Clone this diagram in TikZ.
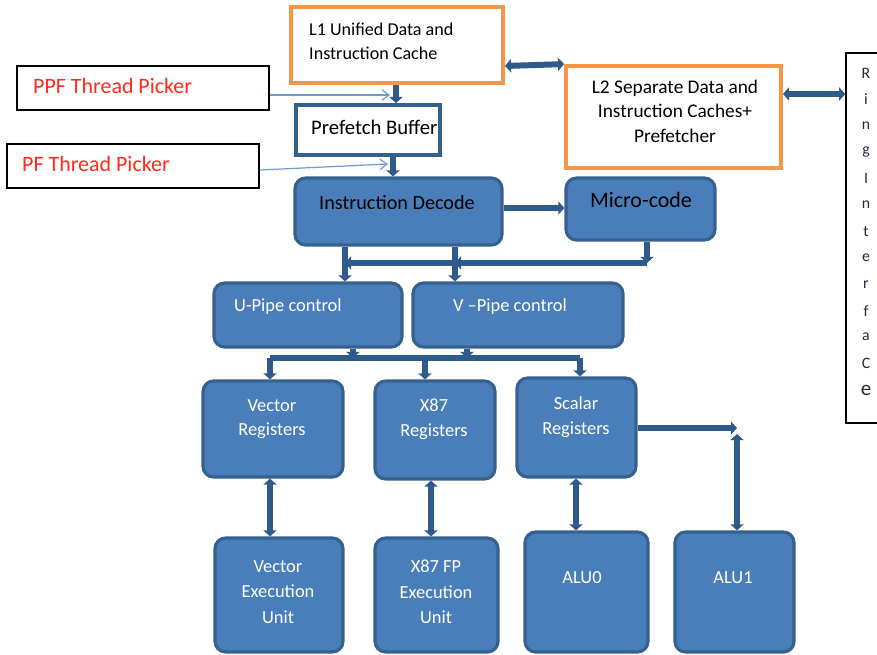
\documentclass[tikz,border=0pt]{standalone}
\usepackage{fontspec}
\setmainfont{Carlito}
\usetikzlibrary{arrows.meta}
\definecolor{boxblue}{HTML}{4A7EBB}
\definecolor{edgeblue}{HTML}{35618F}
\definecolor{pipeblue}{HTML}{2E5B8B}
\definecolor{feedblue}{HTML}{6C9BD2}
\definecolor{cacheorange}{HTML}{F79646}
\definecolor{pickred}{HTML}{FF2A1A}
\definecolor{ringtext}{HTML}{262640}

\begin{document}
\begin{tikzpicture}[x=0.02cm,y=-0.02cm,
  blk/.style={draw=edgeblue,fill=boxblue,line width=1.8pt,rounded corners=6pt,inner sep=0pt},
  cache/.style={draw=cacheorange,line width=2.2pt,fill=white,inner sep=0pt},
  picker/.style={draw=black,line width=0.8pt,inner sep=0pt},
  fat/.style={draw=pipeblue,line width=3.4pt},
  oneway/.style={-{Triangle[width=7.5pt,length=3.5pt]}},
  twoway/.style={{Triangle[width=7.5pt,length=3.5pt]}-{Triangle[width=7.5pt,length=3.5pt]}},
  feed/.style={draw=feedblue,line width=0.7pt,-{Straight Barb[width=6pt,length=4pt]}},
  lbl/.style={font=\fontsize{10.5}{14}\selectfont,text=white,align=center},
  small/.style={font=\fontsize{10.3}{14}\selectfont,align=center}]
\useasboundingbox (0,0) rectangle (877,654);
\clip (0,0) rectangle (877,654);

\node[cache,minimum width=4.24cm,minimum height=1.52cm] (l1) at (397,45) {};
\node[cache,minimum width=4.3cm,minimum height=2.04cm] (l2) at (673.5,117) {};
\node[picker,minimum width=1.08cm,minimum height=7.4cm] (ring) at (873,238) {};
\node[picker,minimum width=5.04cm,minimum height=0.88cm] (ppf) at (143,88) {};
\node[picker,minimum width=5.04cm,minimum height=0.88cm] (pf) at (133,166) {};
\node[draw=edgeblue,line width=2.2pt,fill=white,inner sep=0pt,minimum width=2.88cm,minimum height=1cm] (pfb) at (368,130) {};
\node[blk,minimum width=4.14cm,minimum height=1.34cm] (id) at (398.5,211.5) {};
\node[blk,minimum width=2.98cm,minimum height=1.24cm] (mc) at (640.5,209) {};
\node[blk,minimum width=3.76cm,minimum height=1.28cm] (upipe) at (308,315) {};
\node[blk,minimum width=4.2cm,minimum height=1.28cm] (vpipe) at (518,315) {};
\node[blk,minimum width=2.8cm,minimum height=1.92cm] (vreg) at (273,429) {};
\node[blk,minimum width=2.4cm,minimum height=1.96cm] (xreg) at (435,430) {};
\node[blk,minimum width=2.38cm,minimum height=1.98cm] (sreg) at (576.5,427.5) {};
\node[blk,minimum width=2.56cm,minimum height=2.28cm] (vexe) at (279,595) {};
\node[blk,minimum width=2.46cm,minimum height=2.28cm] (xexe) at (436.5,595) {};
\node[blk,minimum width=2.46cm,minimum height=2.4cm] (alu0) at (586.5,592) {};
\node[blk,minimum width=2.38cm,minimum height=2.4cm] (alu1) at (734.5,592) {};

\node[small,anchor=west] at (303,29) {L1 Unified Data and};
\node[small,anchor=west] at (303,53) {Instruction Cache};
\node[small,font=\fontsize{11}{14}\selectfont] at (675,111) {L2 Separate Data and\\Instruction Caches+\\Prefetcher};
\node[anchor=west,text=pickred,font=\fontsize{12.5}{14}\selectfont] at (27,86) {PPF Thread Picker};
\node[anchor=west,text=pickred,font=\fontsize{12.5}{14}\selectfont] at (16,164) {PF Thread Picker};
\node[anchor=west,font=\fontsize{11.8}{13}\selectfont] at (305,127) {Prefetch Buffer};
\node[font=\fontsize{11.5}{13}\selectfont] at (397,203) {Instruction Decode};
\node[font=\fontsize{12.5}{14}\selectfont] at (641,200) {Micro-code};
\node[lbl,anchor=west] at (228,307) {U-Pipe control};
\node[lbl] at (510,307) {V \textendash Pipe control};
\node[lbl] at (272,419) {Vector\\Registers};
\node[lbl] at (434,419) {X87\\Registers};
\node[lbl] at (576,417) {Scalar\\Registers};
\node[lbl,font=\fontsize{10.5}{14.5}\selectfont] at (278,592) {Vector\\Execution\\Unit};
\node[lbl,font=\fontsize{10.5}{14.5}\selectfont] at (436,592) {X87 FP\\Execution\\Unit};
\node[lbl] at (582,578) {ALU0};
\node[lbl] at (733,578) {ALU1};
\foreach \ch [count=\i from 0] in {R,i,n,g,I,n,t,e,r,f,a,C}
  \node[text=ringtext,font=\fontsize{9}{10}\selectfont] at (866,73+26.4*\i) {\ch};
\node[text=ringtext,font=\fontsize{12}{13}\selectfont] at (866,390) {e};

\coordinate (ppfend) at (390,95);
\coordinate (pfend) at (388,164);
\draw[feed] (ppf.east |- 0,95) -- (ppfend);
\draw[feed] (pf.east |- 0,170) -- (pfend);

\draw[fat,twoway] (l1.east |- 0,66) -- (l2.north west);
\draw[fat,twoway] (l2.east |- 0,94) -- (ring.west |- 0,94);
\draw[fat,oneway] (l1.south -| 396,0) -- (pfb.north -| 396,0);
\draw[fat,oneway] (pfb.south -| 393,0) -- (id.north -| 393,0);
\draw[fat,oneway] (id.east |- 0,208) -- (mc.west |- 0,208);

\coordinate (ubus) at (345,263);
\coordinate (vbus) at (455,263);
\coordinate (mbus) at (647,263);
\draw[fat,oneway] (mc.south -| mbus) -- (mbus);
\draw[fat,oneway] (mbus) -- (vbus);
\draw[fat,oneway] (vbus) -- (ubus);
\draw[fat,oneway] (id.south -| ubus) -- (upipe.north -| ubus);
\draw[fat,oneway] (id.south -| vbus) -- (vpipe.north -| vbus);

\coordinate (vtap) at (270,358);
\coordinate (xtap) at (425,358);
\coordinate (stap) at (580,358);
\draw[fat] (vtap) -- (stap);
\draw[fat,oneway] (upipe.south -| 353,0) -- (353,358);
\draw[fat,oneway] (vpipe.south -| 467,0) -- (467,358);
\draw[fat,oneway] (vtap) -- (vreg.north -| vtap);
\draw[fat,oneway] (xtap) -- (xreg.north -| xtap);
\draw[fat,oneway] (stap) -- (sreg.north -| stap);

\draw[fat,twoway] (vreg.south -| 270,0) -- (vexe.north -| 270,0);
\draw[fat,twoway] (xreg.south -| 431,0) -- (xexe.north -| 431,0);
\draw[fat,twoway] (sreg.south -| 576,0) -- (alu0.north -| 576,0);
\coordinate (scorner) at (737,428);
\draw[fat,oneway] (sreg.east |- scorner) -- (scorner);
\draw[fat,twoway] (737,434) -- (alu1.north -| scorner);
\end{tikzpicture}
\end{document}
